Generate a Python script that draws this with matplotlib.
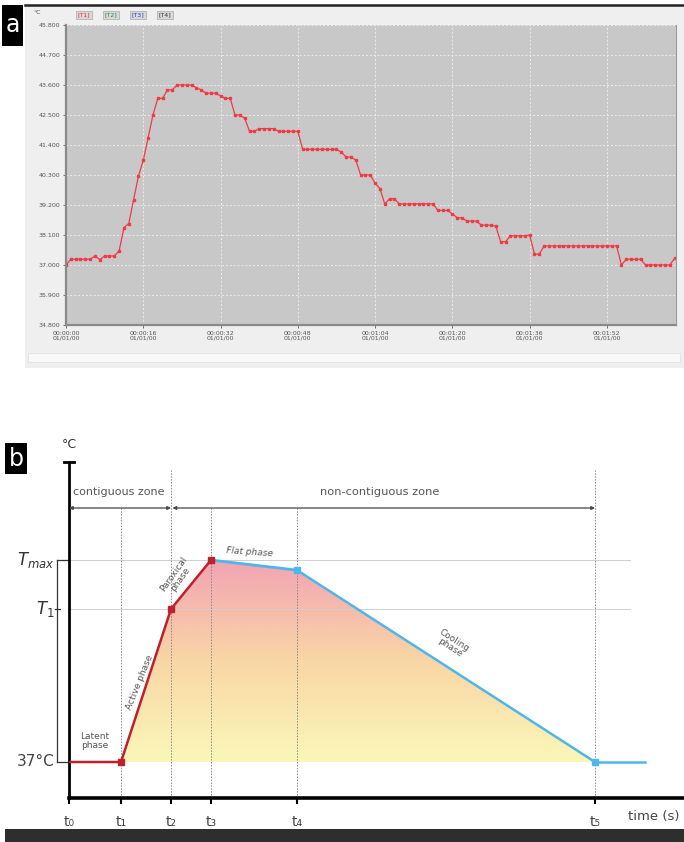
import numpy as np
import matplotlib
matplotlib.use("Agg")
import matplotlib.pyplot as plt
from matplotlib.patches import Rectangle, Polygon
from matplotlib.colors import LinearSegmentedColormap

plt.rcParams['font.family'] = ['DejaVu Sans']

# ---- panel a : recorded temperature, one sample per second ----
temps = [37.00, 37.21, 37.21, 37.21, 37.21, 37.21, 37.33, 37.20, 37.33, 37.33,
         37.33, 37.52, 38.37, 38.52, 39.40, 40.26, 40.84, 41.66, 42.50, 43.11,
         43.11, 43.42, 43.42, 43.60, 43.60, 43.60, 43.60, 43.50, 43.42, 43.30,
         43.30, 43.30, 43.20, 43.11, 43.11, 42.50, 42.50, 42.38, 41.90, 41.90,
         42.00, 42.00, 42.00, 42.00, 41.90, 41.90, 41.90, 41.90, 41.90, 41.24,
         41.24, 41.24, 41.24, 41.24, 41.24, 41.24, 41.24, 41.14, 40.96, 40.96,
         40.85, 40.30, 40.30, 40.30, 40.00, 39.80, 39.24, 39.43, 39.43, 39.24,
         39.24, 39.24, 39.24, 39.24, 39.24, 39.24, 39.24, 39.00, 39.00, 39.00,
         38.88, 38.73, 38.73, 38.61, 38.61, 38.61, 38.46, 38.46, 38.46, 38.42,
         37.85, 37.85, 38.07, 38.07, 38.07, 38.07, 38.10, 37.40, 37.40, 37.70,
         37.70, 37.70, 37.70, 37.70, 37.70, 37.70, 37.70, 37.70, 37.70, 37.70,
         37.70, 37.70, 37.70, 37.70, 37.70, 37.00, 37.21, 37.21, 37.21, 37.21,
         37.00, 37.00, 37.00, 37.00, 37.00, 37.00, 37.24]
seconds = np.arange(len(temps))
a_yticks = [34.8, 35.9, 37.0, 38.1, 39.2, 40.3, 41.4, 42.5, 43.6, 44.7, 45.8]
a_xticks = [0, 16, 32, 48, 64, 80, 96, 112]
a_xlabels = ["00:00:00", "00:00:16", "00:00:32", "00:00:48",
             "00:01:04", "00:01:20", "00:01:36", "00:01:52"]
legend_names = ["[T1]", "[T2]", "[T3]", "[T4]"]
legend_colors = ["#e8303a", "#2f8a3a", "#3040c0", "#333333"]

# ---- panel b : schematic heating curve ----
t_names = ["t₀", "t₁", "t₂", "t₃", "t₄", "t₅"]
t_pos = [0, 10.4, 20.4, 28.4, 45.6, 105.2]
T_base = 37.0
T_1 = 42.0
T_max = 43.6
T_flat_end = 43.27
t_end = 115.2

W, H = 684, 842
fig = plt.figure(figsize=(W / 100, H / 100), dpi=100)


def px_box(x0, y0, x1, y1):
    # pixel box (top-left origin) -> figure fraction rect
    return [x0 / W, 1 - y1 / H, (x1 - x0) / W, (y1 - y0) / H]


def fig_rect(box, **kw):
    r = px_box(*box)
    fig.patches.append(Rectangle((r[0], r[1]), r[2], r[3], transform=fig.transFigure, **kw))
    return r


# background of the recorder window
fig_rect((25, 5, 684, 368), facecolor="#efefef", edgecolor="none", zorder=-2)
fig.add_artist(plt.Line2D([25 / W, 1], [1 - 5 / H, 1 - 5 / H], color="#222222", lw=1.8))
fig_rect((28, 353, 680, 362), facecolor="#f8f8f8", edgecolor="#e0e0e0", lw=0.6, zorder=-1)

# label boxes a / b
for lab, box in [("a", (2, 5, 23, 46)), ("b", (5, 443, 27, 474))]:
    r = fig_rect(box, facecolor="black", edgecolor="none", zorder=3)
    fig.text(r[0] + r[2] / 2, r[1] + r[3] / 2, lab, color="white", fontsize=17,
             ha="center", va="center", zorder=4)

# legend of the recorder
fig.text(33 / W, 1 - 13 / H, "°C", fontsize=4.5, color="#444444", va="center")
for i, (name, col) in enumerate(zip(legend_names, legend_colors)):
    fig.text((84 + 27 * i) / W, 1 - 15 / H, name, fontsize=4.5, color=col,
             ha="center", va="center",
             bbox=dict(boxstyle="square,pad=0.25", facecolor="#d8d8d8", edgecolor="#aaaaaa", lw=0.5))

# ---- panel a axes ----
ax1 = fig.add_axes(px_box(66, 25, 676, 325))
ax1.set_zorder(2)
ax1.set_facecolor("#c8c8c8")
ax1.plot(seconds, temps, color="#f03a44", lw=0.9, marker="s", ms=1.8, mec="#f03a44")
ax1.set_xlim(0, 126.3)
ax1.set_ylim(34.8, 45.8)
ax1.set_yticks(a_yticks)
ax1.set_yticklabels([f"{v:.3f}" for v in a_yticks])
ax1.set_xticks(a_xticks)
ax1.set_xticklabels([f"{s}\n01/01/00" for s in a_xlabels], linespacing=0.9)
ax1.tick_params(labelsize=4.5, colors="#555555", length=2, width=0.6, pad=2)
ax1.grid(True, color="#ececec", ls=(0, (2, 2)), lw=0.7)
for side in ["left", "bottom"]:
    ax1.spines[side].set_color("#8a8a8a")
    ax1.spines[side].set_linewidth(1.6)
ax1.spines["right"].set_color("#9a9a9a")
ax1.spines["top"].set_visible(False)

# ---- panel b axes ----
px_per_s = 5.0
px_per_deg = 30.6
ax2 = fig.add_axes(px_box(69, 462, 684, 798))
ax2.set_zorder(2)
ax2.set_xlim(0, (684 - 69) / px_per_s)
ax2.set_ylim(T_base - (798 - 762) / px_per_deg, T_base + (762 - 462) / px_per_deg)
for side in ["top", "right"]:
    ax2.spines[side].set_visible(False)
ax2.spines["left"].set_linewidth(2.0)
ax2.spines["bottom"].set_linewidth(2.6)
ax2.set_yticks([])
ax2.set_xticks(t_pos)
ax2.set_xticklabels(t_names, fontsize=10, color="#444444")
ax2.tick_params(axis="x", length=4, width=1.5, pad=8)
ylo, yhi = ax2.get_ylim()
ax2.plot([-1.0, 1.0], [yhi, yhi], color="black", lw=2, clip_on=False)
ax2.text(0, yhi + 0.35, "°C", fontsize=9, color="#333333", ha="center", va="bottom")
ax2.text(117.0, ylo - 0.62, "time (s)", fontsize=9.5, color="#444444", ha="center", va="center")

# reference lines
gx = (630 - 69) / px_per_s
ax2.plot([0, gx], [T_max, T_max], color="#d0d0d0", lw=0.7)
ax2.plot([0, gx], [T_1, T_1], color="#d0d0d0", lw=0.7)
y_arrow = T_base + (762 - 508) / px_per_deg
y_top_line = T_base + (762 - 470) / px_per_deg
for i, tp in enumerate(t_pos[1:], start=1):
    top = y_top_line if i in (2, 5) else y_arrow
    ax2.plot([tp, tp], [ylo, top], color="#888888", lw=0.7, ls=(0, (1.5, 1.5)))

# zone arrows
ax2.annotate("", xy=(0, y_arrow), xytext=(t_pos[2], y_arrow),
             arrowprops=dict(arrowstyle="<|-|>", color="#444444", lw=0.9,
                             mutation_scale=5, shrinkA=0, shrinkB=0))
ax2.annotate("", xy=(t_pos[2] + 0.3, y_arrow), xytext=(t_pos[5], y_arrow),
             arrowprops=dict(arrowstyle="<|-|>", color="#444444", lw=0.9,
                             mutation_scale=5, shrinkA=0, shrinkB=0))
y_zone = T_base + (762 - 492) / px_per_deg
ax2.text(10.0, y_zone, "contiguous zone", fontsize=8, color="#555555", ha="center", va="center")
ax2.text(62.2, y_zone, "non-contiguous zone", fontsize=8.2, color="#555555", ha="center", va="center")

# gradient fill under the curve
poly_x = [t_pos[1], t_pos[2], t_pos[3], t_pos[4], t_pos[5]]
poly_y = [T_base, T_1, T_max, T_flat_end, T_base]
cmap = LinearSegmentedColormap.from_list("heat", ["#fbf7b8", "#f9d6a6", "#f2a3b3"])
grad = np.linspace(0, 1, 256).reshape(-1, 1)
img = ax2.imshow(grad, extent=[t_pos[1], t_pos[5], T_base, T_max], origin="lower",
                 cmap=cmap, aspect="auto", interpolation="bicubic", zorder=1)
clip = Polygon(np.column_stack([poly_x, poly_y]), closed=True, transform=ax2.transData)
img.set_clip_path(clip)

# curves
red = "#c0202c"
blue = "#4db6ea"
ax2.plot([t_pos[0], t_pos[1], t_pos[2], t_pos[3]], [T_base, T_base, T_1, T_max],
         color=red, lw=1.8, zorder=3)
ax2.plot([t_pos[1], t_pos[2], t_pos[3]], [T_base, T_1, T_max], ls="none",
         marker="s", ms=5, color=red, zorder=4)
ax2.plot([t_pos[3], t_pos[4]], [T_max, T_flat_end], color=blue, lw=2.0, zorder=3)
ax2.plot([t_pos[4], t_pos[5]], [T_flat_end, T_base], color=blue, lw=1.8, zorder=3,
         marker="o", ms=2.2, markevery=0.06)
ax2.plot([t_pos[5], t_end], [T_base, T_base], color=blue, lw=1.8, zorder=3)
ax2.plot([t_pos[4], t_pos[5]], [T_flat_end, T_base], ls="none", marker="s", ms=5,
         color=blue, zorder=4)

# phase labels
ph = dict(fontsize=6.5, color="#555555", ha="center", va="center", linespacing=1.0)
ax2.text(5.2, 37.68, "Latent\nphase", **ph)
ax2.text(14.2, 39.6, "Active phase", rotation=68, **ph)
ax2.text(21.6, 43.05, "Paroxical\nphase", rotation=55, **ph)
ax2.text(36.2, 43.85, "Flat phase", rotation=-4, style="italic", **ph)
ax2.text(76.6, 40.85, "Cooling\nphase", rotation=-33, **ph)

# bracket with level labels on the left
bx = (57 - 69) / px_per_s
ax2.plot([bx, bx], [T_base, T_max], color="#333333", lw=0.9, clip_on=False)
ax2.plot([bx, 0], [T_max, T_max], color="#333333", lw=0.9, clip_on=False)
ax2.plot([bx, 0], [T_base, T_base], color="#333333", lw=0.9, clip_on=False)
ax2.plot([bx - 0.4, bx + 0.6], [T_1, T_1], color="#333333", lw=0.9, clip_on=False)
ax2.text(bx - 0.4, T_max, r"$T_{max}$", fontsize=12, color="#333333", ha="right", va="center")
ax2.text(bx - 0.4, T_1, r"$T_1$", fontsize=12, color="#333333", ha="right", va="center")
ax2.text(bx - 0.4, T_base, "37°C", fontsize=11, color="#444444", ha="right", va="center")

# dark strip at the bottom
fig_rect((5, 829, 684, 842), facecolor="#2e2e2e", edgecolor="none", zorder=-1)

fig.savefig("out.png", dpi=100)
